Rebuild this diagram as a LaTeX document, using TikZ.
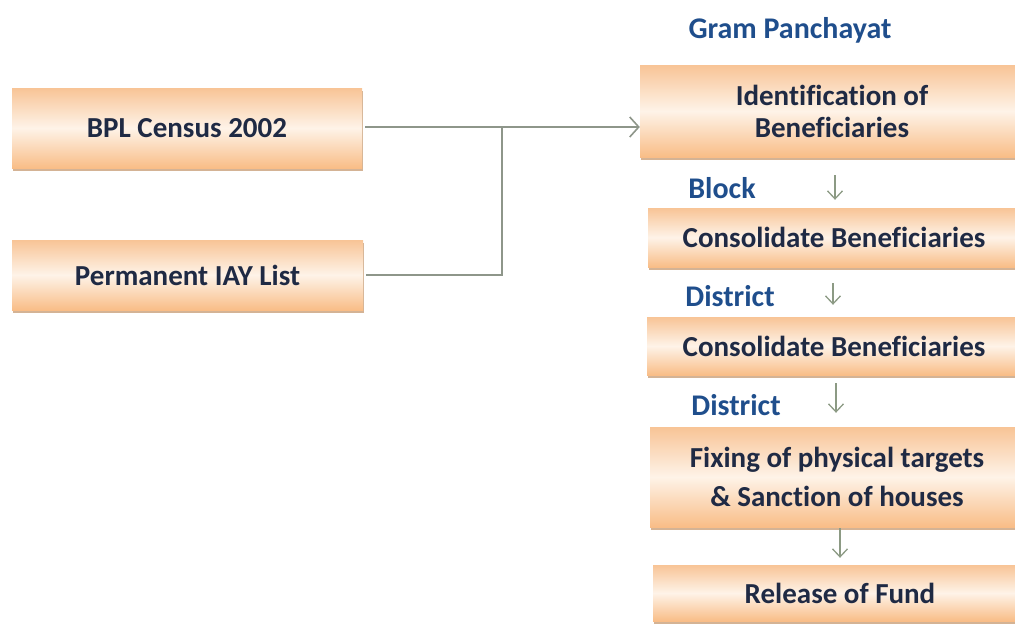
\documentclass[tikz,border=0pt]{standalone}
\usepackage{fontspec}
\setmainfont[Ligatures=NoCommon]{Carlito}
\usepackage{xcolor}
\usepackage{tikz}
\usetikzlibrary{shadows,arrows.meta}

\definecolor{textonavy}{HTML}{1F2A44}
\definecolor{azulnivel}{HTML}{1F4E8C}
\definecolor{grislinea}{HTML}{8E968A}
\definecolor{verdeflecha}{HTML}{8C9A84}
\definecolor{durazno}{HTML}{F8C496}
\definecolor{crema}{HTML}{FEF3E8}
\definecolor{sombra}{HTML}{C9A07A}

\begin{document}
\begin{tikzpicture}[x=1pt,y=-1pt]
    % Definición de estilos
    \tikzstyle{caja}=[inner sep=0pt, align=center, text=textonavy, font=\fontsize{29}{32}\selectfont\bfseries,
        top color=durazno, bottom color=durazno!90!orange, middle color=crema,
        drop shadow={shadow xshift=1pt, shadow yshift=-3pt, fill=sombra, opacity=0.8}]
    \tikzstyle{nivel}=[text=azulnivel, font=\fontsize{30}{34}\selectfont\bfseries]
    \tikzstyle{enlace}=[grislinea, line width=1.6pt]
    \tikzstyle{bajada}=[verdeflecha, line width=1.3pt, -{Straight Barb[length=8pt, width=15pt, line width=1.3pt]}]
    \useasboundingbox (0,0) rectangle (1015,627);
    % Fuentes de datos (columna izquierda)
    \node[caja, minimum width=350pt, minimum height=80pt] (bpl) at (187,128) {BPL Census 2002};
    \node[caja, minimum width=351pt, minimum height=70pt] (iay) at (187.5,275) {Permanent IAY List};
    % Etapas del proceso (columna derecha)
    \node[caja, minimum width=384pt, minimum height=92pt] (ident) at (832,111) {Identification of\\Beneficiaries};
    \node[caja, minimum width=372pt, minimum height=59pt] (cons1) at (834,237.5) {Consolidate Beneficiaries};
    \node[caja, minimum width=374pt, minimum height=58pt] (cons2) at (834,346) {Consolidate Beneficiaries};
    \node[caja, minimum width=374pt, minimum height=100pt] (fix) at (837,477) {Fixing of physical targets\\[7pt]\& Sanction of houses};
    \node[caja, minimum width=374pt, minimum height=56pt] (release) at (840,593) {Release of Fund};
    % Niveles administrativos
    \node[nivel] (gp) at (790,30) {Gram Panchayat};
    \node[nivel] (block) at (722,188) {Block};
    \node[nivel] (dist1) at (730,296) {District};
    \node[nivel] (dist2) at (736,405) {District};
    % Unión de las dos fuentes hacia la identificación
    \coordinate (union) at (502,127);
    \draw[enlace, shorten <=3pt, -{Straight Barb[length=9pt, width=20pt, line width=1.6pt]}] (bpl.east |- union) -- (union -| ident.west);
    \draw[enlace, shorten <=3pt] (iay.east) -- (iay.east -| union) -- (union);
    % Flechas entre etapas
    \draw[bajada, shorten <=18pt, shorten >=8pt] ([xshift=3pt]ident.south) -- ([xshift=3pt]ident.south |- cons1.north);
    \draw[bajada, shorten <=16pt, shorten >=12pt] ([xshift=-1pt]cons1.south) -- ([xshift=-1pt]cons1.south |- cons2.north);
    \draw[bajada, shorten <=8pt, shorten >=14pt] ([xshift=2pt]cons2.south) -- ([xshift=2pt]cons2.south |- fix.north);
    \draw[bajada, shorten <=1pt, shorten >=7pt] ([xshift=3pt]fix.south) -- ([xshift=3pt]fix.south |- release.north);
\end{tikzpicture}
\end{document}
